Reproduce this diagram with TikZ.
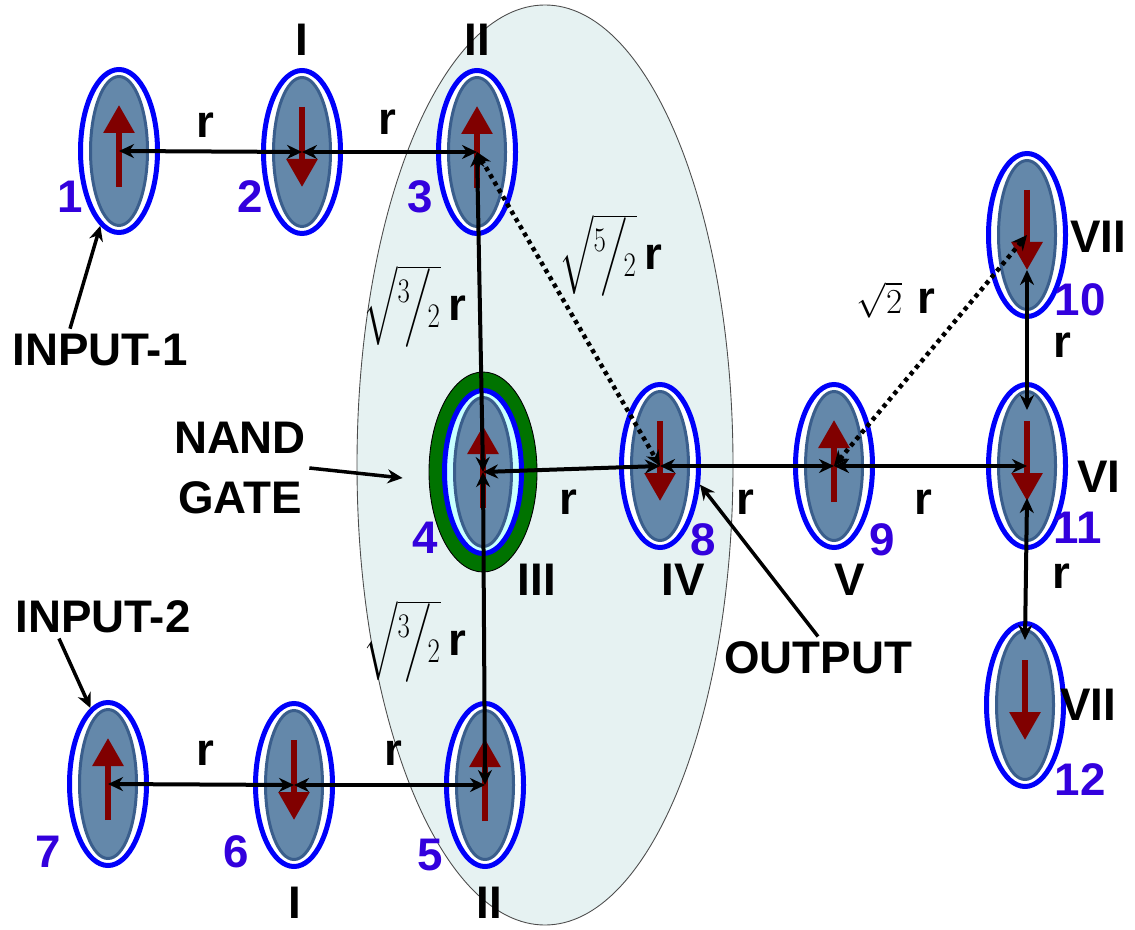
\documentclass[tikz,border=0pt]{standalone}
\usepackage{fix-cm}
\usepackage{amsmath}
\usepackage[no-math]{fontspec}
\setmainfont{Liberation Sans}
\usetikzlibrary{arrows.meta,shapes.geometric}

\definecolor{ringblue}{RGB}{0,0,250}
\definecolor{corefill}{RGB}{100,136,170}
\definecolor{coreedge}{RGB}{58,94,140}
\definecolor{spinred}{RGB}{128,0,0}
\definecolor{numblue}{RGB}{51,0,221}
\definecolor{zonefill}{RGB}{230,242,242}
\definecolor{gategreen}{RGB}{0,115,0}
\definecolor{gapcyan}{RGB}{200,255,255}

\newcommand{\rootfrac}[2]{\scalebox{0.78}[1]{$\sqrt{\vphantom{(}\smash{{}^{#1}\mkern-3mu\big/\mkern-2mu{}_{#2}}}$}}

\begin{document}
\begin{tikzpicture}[>={Stealth[length=3mm,width=2.8mm]},
  magnet/.style={ellipse,draw=ringblue,line width=1mm,fill=white,minimum width=1.54cm,minimum height=3.26cm,inner sep=0pt},
  core/.style={draw=coreedge,fill=corefill,line width=0.6mm},
  spin/.style={draw=spinred,line width=1.2mm,-{Triangle[width=6mm,length=5.6mm]}},
  spinup/.style={magnet,path picture={\draw[core] (path picture bounding box.center) ellipse (0.57cm and 1.49cm);
    \draw[spin] ([yshift=-0.72cm]path picture bounding box.center) -- ++(0,1.64cm);}},
  spindown/.style={magnet,path picture={\draw[core] (path picture bounding box.center) ellipse (0.57cm and 1.49cm);
    \draw[spin] ([yshift=0.9cm]path picture bounding box.center) -- ++(0,-1.6cm);}},
  link/.style={<->,line width=0.8mm},
  dotlink/.style={<->,line width=0.9mm,dash pattern=on 2.4pt off 2.4pt},
  pointer/.style={->,line width=0.7mm},
  lbl/.style={font=\fontsize{26}{34}\selectfont\bfseries,inner sep=0pt},
  num/.style={lbl,text=numblue},
  dist/.style={lbl},
  root/.style={font=\fontsize{28}{32}\selectfont,inner sep=0pt}]
\useasboundingbox (0,0) rectangle (22.7,-18.6);

% NAND gate region
\node[ellipse,draw=black!70,line width=0.5pt,fill=zonefill,minimum width=7.52cm,minimum height=18.4cm,inner sep=0pt] (zone) at (10.90,-9.30) {};
\node[ellipse,draw=black,line width=0.5pt,fill=gategreen,minimum width=2.16cm,minimum height=4.0cm,inner sep=0pt] (gate) at (9.66,-9.44) {};

% magnets
\node[spinup] (m1) at (2.38,-3.02) {};
\node[spindown] (m2) at (6.04,-3.04) {};
\node[spinup] (m3) at (9.54,-3.04) {};
\node[spinup,fill=gapcyan] (m4) at (9.66,-9.44) {};
\node[spinup] (m5) at (9.70,-15.70) {};
\node[spindown] (m6) at (5.88,-15.70) {};
\node[spinup] (m7) at (2.16,-15.68) {};
\node[spindown] (m8) at (13.20,-9.32) {};
\node[spinup] (m9) at (16.68,-9.32) {};
\node[spindown] (m10) at (20.54,-4.70) {};
\node[spindown] (m11) at (20.54,-9.32) {};
\node[spindown] (m12) at (20.50,-14.10) {};

% couplings
\draw[link] (m1.center) -- (m2.center);
\draw[link] (m2.center) -- (m3.center);
\draw[link] (m7.center) -- (m6.center);
\draw[link] (m6.center) -- (m5.center);
\draw[link] (m3.center) -- (m4.center);
\draw[link] (m4.center) -- (m5.center);
\draw[link] (m4.center) -- (m8.center);
\draw[link] (m8.center) -- (m9.center);
\draw[link] (m9.center) -- (m11.center);
\draw[dotlink] (m3.center) -- (m8.center);
\draw[dotlink] (m9.center) -- (m10.center);
\draw[link] ([yshift=-0.7cm]m10.center) -- ([yshift=1.12cm]m11.center);
\draw[link] ([yshift=-0.64cm]m11.center) -- ([yshift=1.3cm]m12.center);

% numbers
\node[num] (n1) at (1.40,-3.94) {1};
\node[num] (n2) at (5.00,-3.94) {2};
\node[num] (n3) at (8.40,-3.94) {3};
\node[num] (n4) at (8.50,-10.76) {4};
\node[num] (n5) at (8.60,-17.10) {5};
\node[num] (n6) at (4.72,-17.04) {6};
\node[num] (n7) at (0.96,-17.04) {7};
\node[num] (n8) at (14.06,-10.80) {8};
\node[num] (n9) at (17.64,-10.80) {9};
\node[num] (n10) at (21.60,-6.00) {10};
\node[num] (n11) at (21.56,-10.56) {11};
\node[num] (n12) at (21.60,-15.60) {12};

% clock zones
\node[lbl] (z2) at (6.04,-0.80) {I};
\node[lbl] (z3) at (9.54,-0.80) {II};
\node[lbl] (z6) at (5.90,-18.06) {I};
\node[lbl] (z5) at (9.78,-18.06) {II};
\node[lbl] (z4) at (10.74,-11.60) {III};
\node[lbl] (z8) at (13.66,-11.60) {IV};
\node[lbl] (z9) at (17.00,-11.60) {V};
\node[lbl] (z11) at (21.98,-9.54) {VI};
\node[lbl] (z10) at (21.96,-4.74) {VII};
\node[lbl] (z12) at (21.76,-14.10) {VII};

% distances
\node[dist] (d12) at (4.10,-2.50) {r};
\node[dist] (d23) at (7.74,-2.44) {r};
\node[dist] (d76) at (4.10,-15.06) {r};
\node[dist] (d65) at (7.86,-15.06) {r};
\node[dist] (d48) at (11.36,-10.04) {r};
\node[dist] (d89) at (14.90,-10.04) {r};
\node[dist] (d911) at (18.46,-10.04) {r};
\node[dist] (d1011) at (21.24,-6.90) {r};
\node[dist] (d1112) at (21.22,-11.52) {r};
\node[root] (d34) at (8.30,-6.10) {\rootfrac{3}{2}\,{\fontsize{26}{30}\selectfont\bfseries r}};
\node[root] (d45) at (8.30,-12.80) {\rootfrac{3}{2}\,{\fontsize{26}{30}\selectfont\bfseries r}};
\node[root] (d38) at (12.22,-5.08) {\rootfrac{5}{2}\,{\fontsize{26}{30}\selectfont\bfseries r}};
\node[lbl] (d910) at (17.92,-6.00) {{\fontsize{20}{24}\selectfont$\sqrt{2}$}\,\,r};

% inputs and output
\node[lbl] (in1) at (2.00,-7.00) {INPUT-1};
\node[lbl] (in2) at (2.06,-12.34) {INPUT-2};
\node[lbl,align=center] (nand) at (4.80,-9.36) {NAND\\GATE};
\node[lbl] (out) at (16.36,-13.16) {OUTPUT};
\draw[pointer] ([xshift=-0.6cm,yshift=0.1cm]in1.north) -- (m1.256);
\draw[pointer] ([xshift=-0.88cm,yshift=-0.1cm]in2.south) -- (m7.103);
\draw[pointer] ([xshift=0.06cm]nand.east) -- ([xshift=-0.52cm,yshift=-0.12cm]gate.west);
\draw[pointer] ([yshift=0.1cm]out.north) -- (m8.-25);
\end{tikzpicture}
\end{document}
